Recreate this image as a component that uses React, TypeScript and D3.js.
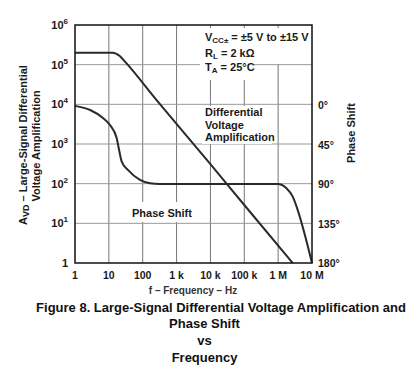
import React from "react";
import * as d3 from "d3";

// ---- data ----
const ampFreq = [1, 13, 21, 30, 257, 1e4, 1e5, 2.7e6];
const ampValue = [2e5, 2e5, 1.65e5, 1.19e5, 1.28e4, 310, 29, 1];

const phaseFreq = [1, 2.8, 6.7, 10.8, 17, 20, 24, 36.6, 83, 163, 320, 9.7e5, 1.76e6, 2.7e6, 3.5e6, 1e7];
const phaseDeg = [1, 5.7, 14.8, 22.8, 37.6, 51, 64.6, 74, 85.4, 89.2, 90, 90, 94.8, 104.4, 115.8, 180];

const xTicks = [1, 10, 100, 1e3, 1e4, 1e5, 1e6, 1e7];
const xTickLabels = ["1", "10", "100", "1 k", "10 k", "100 k", "1 M", "10 M"];
const yExponents = [0, 1, 2, 3, 4, 5, 6];
const phaseTicks = [0, 45, 90, 135, 180];

const captionLines = [
  "Figure 8. Large-Signal Differential Voltage Amplification and",
  "Phase Shift",
  "vs",
  "Frequency",
];

const FONT = "'Liberation Sans', Arial, sans-serif";
const TXT = "#1a1a1a";

export default function App() {
  const x = d3.scaleLog().domain([1, 1e7]).range([75, 312]);
  const y = d3.scaleLog().domain([1, 1e6]).range([263, 25]);
  const yp = d3.scaleLinear().domain([0, 180]).range([105, 263]);

  const ampLine = d3
    .line<number>()
    .x((i) => x(ampFreq[i]))
    .y((i) => y(ampValue[i]))
    .curve(d3.curveMonotoneX)(ampFreq.map((_, i) => i));

  const phaseLine = d3
    .line<number>()
    .x((i) => x(phaseFreq[i]))
    .y((i) => yp(phaseDeg[i]))
    .curve(d3.curveMonotoneX)(phaseFreq.map((_, i) => i));

  const [x0, x1] = x.range();
  const [yb, yt] = y.range();

  return (
    <svg
      width={412}
      height={379}
      style={{ position: "absolute", left: 0, top: 0, background: "#fff" }}
      fontFamily={FONT}
    >
      <rect x={0} y={0} width={412} height={379} fill="#fff" />
      {/* grid */}
      {xTicks.slice(1, -1).map((t) => (
        <line key={"vx" + t} x1={x(t)} x2={x(t)} y1={yt} y2={yb} stroke="#777" strokeWidth={1} />
      ))}
      {yExponents.slice(1, -1).map((e) => (
        <line key={"hy" + e} x1={x0} x2={x1} y1={y(Math.pow(10, e))} y2={y(Math.pow(10, e))} stroke="#999" strokeWidth={1} />
      ))}

      {/* white boxes behind annotations */}
      <rect x={200} y={28} width={104} height={36} fill="#fff" />
      <rect x={200} y={60} width={54} height={20} fill="#fff" />
      <rect x={202} y={106} width={70} height={38} fill="#fff" />
      <rect x={128} y={202} width={64} height={20} fill="#fff" />

      {/* curves */}
      <path d={ampLine || ""} fill="none" stroke="#2a2a2a" strokeWidth={2} />
      <path d={phaseLine || ""} fill="none" stroke="#2a2a2a" strokeWidth={2} />

      {/* frame */}
      <rect x={x0} y={yt} width={x1 - x0} height={yb - yt} fill="none" stroke="#111" strokeWidth={1.5} />

      {/* annotations */}
      <g fontSize={11} fontWeight="bold" fill={TXT}>
        <text x={205} y={41}>
          V<tspan fontSize={8} dy={2}>CC±</tspan>
          <tspan dy={-2}> = ±5 V to ±15 V</tspan>
        </text>
        <text x={205} y={57}>
          R<tspan fontSize={8} dy={2}>L</tspan>
          <tspan dy={-2}> = 2 kΩ</tspan>
        </text>
        <text x={205} y={71}>
          T<tspan fontSize={8} dy={2}>A</tspan>
          <tspan dy={-2}> = 25°C</tspan>
        </text>
        <text x={205} y={116}>Differential</text>
        <text x={205} y={129}>Voltage</text>
        <text x={205} y={141}>Amplification</text>
        <text x={132} y={217}>Phase Shift</text>
      </g>

      {/* y tick labels */}
      <g fontWeight="bold" fill={TXT}>
        {yExponents.map((e) =>
          e === 0 ? (
            <text key={"yl" + e} x={68} y={y(1) + 4} fontSize={11} textAnchor="end">
              1
            </text>
          ) : (
            <text key={"yl" + e} x={68} y={y(Math.pow(10, e)) + 4} fontSize={11} textAnchor="end">
              10<tspan fontSize={8} dy={-5}>{e}</tspan>
            </text>
          )
        )}
      </g>

      {/* x tick labels */}
      <g fontWeight="bold" fill={TXT} fontSize={10.5} textAnchor="middle">
        {xTicks.map((t, i) => (
          <text key={"xl" + t} x={x(t)} y={279}>
            {xTickLabels[i]}
          </text>
        ))}
      </g>

      {/* phase tick labels */}
      <g fontWeight="bold" fill={TXT} fontSize={10.5}>
        {phaseTicks.map((p) => (
          <text key={"pl" + p} x={318} y={yp(p) + 4}>
            {p}°
          </text>
        ))}
      </g>

      {/* axis titles */}
      <text
        transform="translate(355,133) rotate(-90)"
        textAnchor="middle"
        fontSize={11}
        fontWeight="bold"
        fill={TXT}
      >
        Phase Shift
      </text>
      <g fontSize={11} fontWeight="bold" fill={TXT} textAnchor="middle">
        <text transform="translate(27,145) rotate(-90)">
          A<tspan fontSize={9} dy={2}>VD</tspan>
          <tspan dy={-2}> – Large-Signal Differential</tspan>
        </text>
        <text transform="translate(40,146) rotate(-90)">Voltage Amplification</text>
      </g>
      <text x={193} y={294} textAnchor="middle" fontSize={10} fontWeight="bold" fill="#333">
        f – Frequency – Hz
      </text>

      {/* caption */}
      <g fontSize={13} fontWeight="bold" fill="#111" textAnchor="middle">
        <text x={221} y={312}>{captionLines[0]}</text>
        <text x={204.5} y={328}>{captionLines[1]}</text>
        <text x={204.5} y={345}>{captionLines[2]}</text>
        <text x={204.5} y={362}>{captionLines[3]}</text>
      </g>
    </svg>
  );
}
